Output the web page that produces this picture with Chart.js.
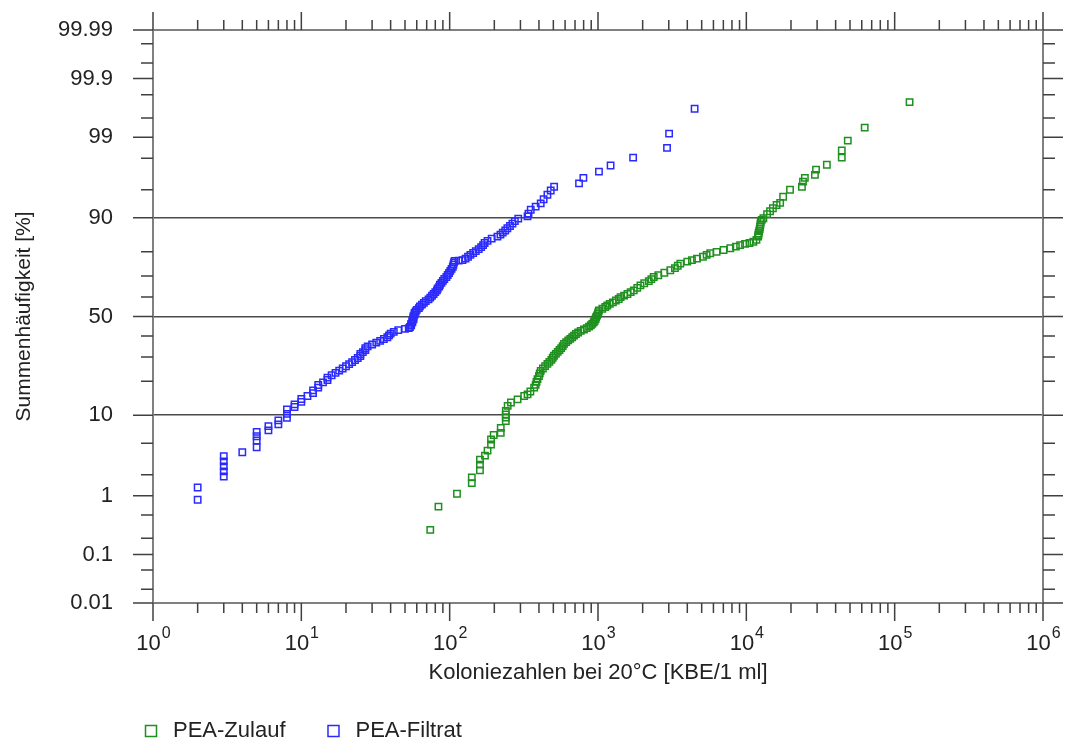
<!DOCTYPE html>
<html>
<head>
<meta charset="utf-8">
<script src="https://cdn.jsdelivr.net/npm/chart.js@4.4.0/dist/chart.umd.min.js"></script>
<style>
  html, body { margin: 0; padding: 0; background: #fff; }
</style>
</head>
<body>
<canvas id="chart" width="1070" height="747"></canvas>
<script>
// PEA-Zulauf: colony counts (KBE/1 ml) and cumulative frequency (%)
const zulaufKbe = [74, 84, 112, 141, 141, 160, 160, 160, 173, 180, 190, 190, 198, 221, 221, 239, 239, 239, 239, 246,
  259, 287, 318, 335, 350, 371, 380, 385, 391, 400, 405, 411, 425, 440, 456, 470, 485, 495, 505, 520,
  535, 550, 565, 578, 590, 610, 630, 650, 670, 689, 710, 735, 765, 804, 840, 870, 895, 915, 935, 950,
  963, 970, 985, 1000, 1005, 1014, 1070, 1120, 1155, 1200, 1260, 1320, 1380, 1420, 1500, 1580, 1660, 1743, 1840, 1932,
  2050, 2200, 2290, 2375, 2550, 2800, 3074, 3300, 3450, 3590, 4000, 4300, 4650, 5100, 5400, 5710, 6300, 7020, 7800, 8500,
  9080, 9800, 10500, 11160, 11700, 12000, 12060, 12100, 12200, 12300, 12380, 12450, 12500, 12700, 13030, 13800, 14450, 15100, 16000, 16900,
  17700, 19700, 23700, 24100, 24800, 29000, 29500, 34900, 44000, 44000, 48300, 62800, 126000];
const zulaufPct = [0.28, 0.68, 1.07, 1.53, 1.84, 2.29, 2.72, 3.16, 3.55, 4.08, 4.83, 5.51, 6.2, 6.54, 7.42, 8.73, 9.5, 10.2, 11.0, 12.3,
  13.2, 14.1, 15.1, 15.6, 16.5, 17.8, 18.8, 19.8, 20.8, 22.0, 23.0, 24.0, 25.0, 26.0, 26.9, 27.8, 28.7, 29.6, 30.5, 31.4,
  32.3, 33.2, 34.1, 35.0, 36.1, 37.0, 37.8, 38.6, 39.4, 40.2, 41.0, 41.8, 42.6, 43.3, 44.0, 44.8, 45.5, 46.2, 47.0, 47.8,
  48.7, 49.6, 50.5, 51.4, 52.2, 53.1, 54.0, 54.9, 55.7, 56.5, 57.3, 58.2, 59.0, 59.9, 60.7, 61.5, 62.4, 63.3, 64.5, 65.7,
  66.7, 67.7, 68.6, 69.6, 70.4, 71.5, 72.6, 73.5, 74.5, 75.4, 76.2, 76.8, 77.4, 78.1, 78.8, 79.4, 79.9, 80.6, 81.2, 81.8,
  82.3, 82.7, 83.0, 83.4, 84.0, 85.0, 85.5, 86.0, 86.6, 87.2, 87.8, 88.4, 89.0, 89.5, 89.9, 90.8, 91.4, 92.0, 92.6, 93.0,
  94.0, 95.0, 95.4, 96.0, 96.4, 96.7, 97.17, 97.56, 98.04, 98.44, 98.88, 99.29, 99.73];

// PEA-Filtrat
const filtratKbe = [2, 2, 3, 3, 3, 3, 3, 4, 5, 5, 5, 5, 6, 6, 7, 7, 8, 8, 8, 9, 9, 10, 10, 11,
  12, 12, 13, 13, 14, 15, 15, 16, 17, 18, 19, 20, 21, 22, 23, 24, 25, 25, 26, 27, 27, 28, 30, 32, 34, 36, 38, 39, 40, 42, 45, 50,
  53, 54, 55, 55, 56, 56, 57, 57, 57, 58, 58, 59, 60, 62, 63, 65, 67, 69, 72, 74, 76, 78, 80, 82, 83, 85, 86, 88, 90, 92,
  95, 97, 99, 101, 103, 105, 106, 107, 108, 115, 122,
  128, 133, 138, 144, 150, 157, 163, 168, 172, 180, 192, 210, 220, 228, 237, 245, 255, 265, 275, 290,
  335, 340, 352, 380, 411, 430, 456, 480, 506, 745, 797, 1015, 1216, 1725, 2920, 3015, 4480];
const filtratPct = [0.87, 1.32, 1.89, 2.22, 2.59, 3.0, 3.48, 3.9, 4.48, 5.37, 6.0, 6.7, 6.96, 7.74, 8.06, 8.87, 9.43, 10.3, 11.4, 12.0, 12.7, 13.4, 14.2, 15.1,
  16.0, 16.9, 17.8, 18.7, 19.6, 20.5, 21.4, 22.3, 23.2, 24.1, 25.0, 25.9, 26.8, 27.7, 28.6, 29.5, 30.4, 31.3, 32.2, 33.1, 34.0, 34.9, 35.8, 36.7, 37.6, 38.5, 39.4, 40.3, 41.2, 42.1, 43.0, 43.6,
  44.0, 44.6, 45.4, 46.2, 47.0, 47.8, 48.6, 49.4, 50.2, 51.0, 51.8, 52.6, 53.4, 54.3, 55.2, 56.1, 57.0, 57.9, 58.8, 59.7, 60.6, 61.5, 62.4, 63.3, 64.2, 65.1, 66.0, 66.9, 67.8, 68.7,
  69.6, 70.5, 71.4, 72.3, 73.2, 74.1, 75.0, 75.9, 76.5, 76.6, 76.8,
  77.4, 78.1, 78.8, 79.5, 80.2, 80.9, 81.6, 82.3, 83.0, 83.7, 84.4, 85.0, 85.6, 86.2, 86.8, 87.4, 88.0, 88.6, 89.2, 89.8,
  90.3, 90.9, 91.7, 92.3, 92.9, 93.6, 94.3, 94.9, 95.4, 95.8, 96.4, 97.0, 97.5, 98.04, 98.57, 99.12, 99.65];

// probability axis ticks (%)
const probLabels = [0.01, 0.1, 1, 10, 50, 90, 99, 99.9, 99.99];
const probMinor = [0.02, 0.05, 0.2, 0.5, 2, 5, 20, 30, 40, 60, 70, 80, 95, 98, 99.5, 99.8, 99.95, 99.98];
const probGrid = [10, 50, 90];
const decades = [1, 10, 100, 1000, 10000, 100000, 1000000];

const FONT = '"Liberation Sans", Arial, sans-serif';

// inverse normal cdf (Acklam), used to put % on the probability scale
function probit(p) {
  const a = [-3.969683028665376e+01, 2.209460984245205e+02, -2.759285104469687e+02, 1.383577518672690e+02, -3.066479806614716e+01, 2.506628277459239e+00];
  const b = [-5.447609879822406e+01, 1.615858368580409e+02, -1.556989798598866e+02, 6.680131188771972e+01, -1.328068155288572e+01];
  const c = [-7.784894002430293e-03, -3.223964580411365e-01, -2.400758277161838e+00, -2.549732539343734e+00, 4.374664141464968e+00, 2.938163982698783e+00];
  const d = [7.784695709041462e-03, 3.224671290700398e-01, 2.445134137142996e+00, 3.754408661907416e+00];
  const pl = 0.02425;
  let q, r;
  if (p < pl) {
    q = Math.sqrt(-2 * Math.log(p));
    return (((((c[0]*q+c[1])*q+c[2])*q+c[3])*q+c[4])*q+c[5]) / ((((d[0]*q+d[1])*q+d[2])*q+d[3])*q+1);
  }
  if (p > 1 - pl) {
    q = Math.sqrt(-2 * Math.log(1 - p));
    return -(((((c[0]*q+c[1])*q+c[2])*q+c[3])*q+c[4])*q+c[5]) / ((((d[0]*q+d[1])*q+d[2])*q+d[3])*q+1);
  }
  q = p - 0.5; r = q * q;
  return (((((a[0]*r+a[1])*r+a[2])*r+a[3])*r+a[4])*r+a[5])*q / (((((b[0]*r+b[1])*r+b[2])*r+b[3])*r+b[4])*r+1);
}

function toPoints(xs, ps) {
  return xs.map((v, i) => ({ x: v, y: probit(ps[i] / 100) }));
}

function isGridValue(v) {
  return probGrid.some(p => Math.abs(probit(p / 100) - v) < 1e-9);
}

// tick marks on all four sides + exponent labels on the x axis
const frame = {
  id: 'frame',
  beforeDatasetsDraw(chart) {
    const { ctx, chartArea: a, scales: { x, y } } = chart;
    ctx.save();
    ctx.strokeStyle = '#808080';
    ctx.lineWidth = 2;
    ctx.strokeRect(a.left, a.top, a.right - a.left, a.bottom - a.top);

    ctx.strokeStyle = '#404040';
    ctx.lineWidth = 1.5;
    ctx.beginPath();
    const hTick = (py, len) => {
      ctx.moveTo(a.left - len, py); ctx.lineTo(a.left, py);
      ctx.moveTo(a.right, py); ctx.lineTo(a.right + len, py);
    };
    probLabels.forEach(p => hTick(y.getPixelForValue(probit(p / 100)), 20));
    probMinor.forEach(p => hTick(y.getPixelForValue(probit(p / 100)), 12));
    const vTick = (px, len) => {
      ctx.moveTo(px, a.top - len); ctx.lineTo(px, a.top);
      ctx.moveTo(px, a.bottom); ctx.lineTo(px, a.bottom + len);
    };
    decades.forEach((dv, i) => {
      vTick(x.getPixelForValue(dv), 18);
      if (i < decades.length - 1) {
        for (let k = 2; k <= 9; k++) vTick(x.getPixelForValue(dv * k), 10);
      }
    });
    ctx.stroke();

    ctx.fillStyle = '#222';
    ctx.textBaseline = 'alphabetic';
    ctx.textAlign = 'left';
    decades.forEach((dv, i) => {
      const px = x.getPixelForValue(dv);
      ctx.font = '22px ' + FONT;
      const w1 = ctx.measureText('10').width;
      ctx.font = '16px ' + FONT;
      const w2 = ctx.measureText(String(i)).width;
      const x0 = px - (w1 + w2) / 2;
      ctx.font = '22px ' + FONT;
      ctx.fillText('10', x0, 650);
      ctx.font = '16px ' + FONT;
      ctx.fillText(String(i), x0 + w1 + 1, 638);
    });
    ctx.restore();
  }
};

// put the legend where the original has it
const legendPlace = {
  id: 'legendPlace',
  afterUpdate(chart) {
    chart.legend.left = 103;
    chart.legend.top = 683;
  }
};

const chart = new Chart(document.getElementById('chart'), {
  type: 'scatter',
  data: {
    datasets: [{
      label: 'PEA-Zulauf',
      data: toPoints(zulaufKbe, zulaufPct),
      pointStyle: 'rect',
      pointRadius: 4.5,
      borderWidth: 1.5,
      borderColor: '#1e901e',
      backgroundColor: 'rgba(0,0,0,0)'
    }, {
      label: 'PEA-Filtrat',
      data: toPoints(filtratKbe, filtratPct),
      pointStyle: 'rect',
      pointRadius: 4.5,
      borderWidth: 1.5,
      borderColor: '#2a2aff',
      backgroundColor: 'rgba(0,0,0,0)'
    }]
  },
  options: {
    responsive: false,
    animation: false,
    layout: { padding: { top: 30, right: 27, bottom: 0, left: 0 } },
    plugins: {
      tooltip: { enabled: false },
      legend: {
        position: 'bottom',
        align: 'start',
        maxHeight: 30,
        labels: {
          usePointStyle: true,
          boxHeight: 11,
          padding: 37,
          color: '#222',
          font: { size: 22, family: FONT }
        }
      }
    },
    scales: {
      x: {
        type: 'logarithmic',
        min: 1,
        max: 1000000,
        grid: { display: false },
        border: { display: false },
        ticks: { display: false },
        title: {
          display: true,
          text: 'Koloniezahlen bei 20°C [KBE/1 ml]',
          color: '#222',
          font: { size: 22, family: FONT },
          padding: { top: 0, bottom: 31 }
        },
        afterFit(scale) { scale.height = 114; }
      },
      y: {
        type: 'linear',
        min: probit(0.0001),
        max: probit(0.9999),
        border: { display: false },
        grid: {
          drawTicks: true,
          tickLength: 40,
          tickColor: 'rgba(0,0,0,0)',
          lineWidth: 1.5,
          color: c => (c.tick && isGridValue(c.tick.value)) ? '#4a4a4a' : 'rgba(0,0,0,0)'
        },
        afterBuildTicks(scale) {
          scale.ticks = probLabels.map(p => ({ value: probit(p / 100) }));
        },
        ticks: {
          autoSkip: false,
          padding: 0,
          color: '#222',
          font: { size: 22, family: FONT },
          callback: (v, i) => String(probLabels[i])
        },
        title: {
          display: true,
          text: 'Summenhäufigkeit [%]',
          color: '#222',
          font: { size: 21, family: FONT },
          padding: { top: 12, bottom: 0 }
        },
        afterFit(scale) { scale.width = 153; }
      }
    }
  },
  plugins: [frame, legendPlace]
});
</script>
</body>
</html>
